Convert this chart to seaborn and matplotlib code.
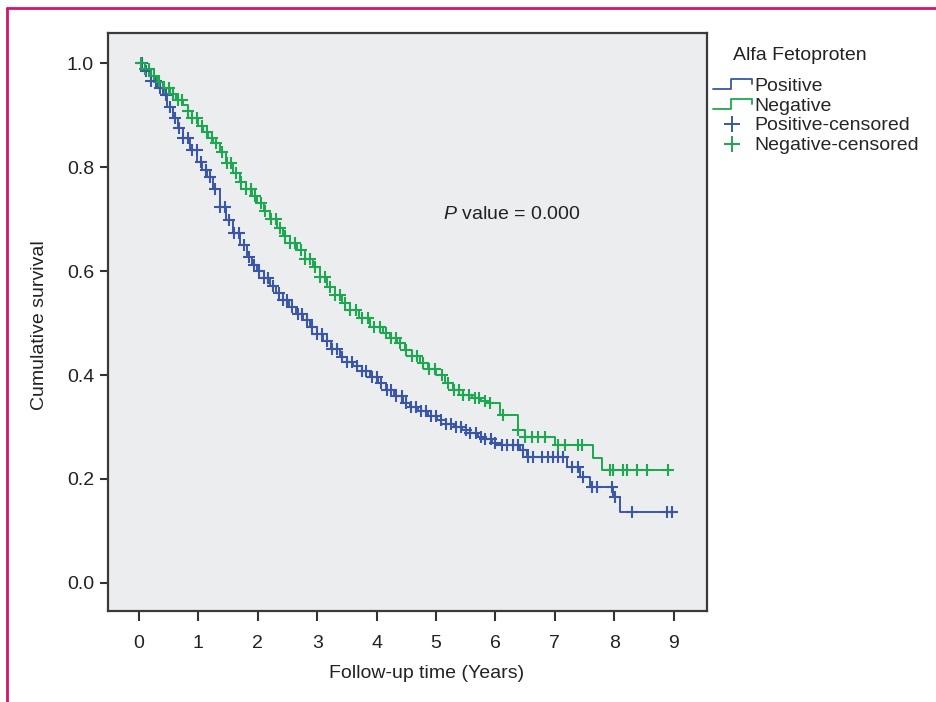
import numpy as np
import pandas as pd
import matplotlib
matplotlib.use("Agg")
import matplotlib.pyplot as plt
import seaborn as sns
from matplotlib.lines import Line2D
from matplotlib.legend_handler import HandlerBase

# Kaplan-Meier step values (time in years, survival after step)
pos_times = [0, 0.1, 0.2, 0.3, 0.4, 0.48, 0.57, 0.65, 0.74, 0.86, 0.98, 1.06, 1.14, 1.25,
             1.36, 1.47, 1.58, 1.7, 1.82, 1.9, 1.99, 2.1, 2.2, 2.3, 2.42, 2.53, 2.65, 2.76,
             2.88, 3.0, 3.1, 3.24, 3.38, 3.5, 3.6, 3.75, 3.89, 4.02, 4.15, 4.3, 4.44, 4.57,
             4.7, 4.86, 5.02, 5.16, 5.3, 5.44, 5.57, 5.7, 5.8, 5.95, 6.08, 6.41, 6.53, 7.2,
             7.42, 7.59, 7.98, 8.1, 8.97]
pos_surv = [1.0, 0.985, 0.965, 0.952, 0.938, 0.915, 0.894, 0.875, 0.856, 0.833, 0.81, 0.795,
            0.781, 0.758, 0.723, 0.698, 0.673, 0.650, 0.627, 0.612, 0.600, 0.586, 0.572, 0.558,
            0.544, 0.531, 0.518, 0.505, 0.492, 0.479, 0.466, 0.450, 0.435, 0.425, 0.418, 0.407,
            0.396, 0.384, 0.372, 0.359, 0.346, 0.338, 0.331, 0.322, 0.313, 0.306, 0.300, 0.294,
            0.288, 0.281, 0.276, 0.270, 0.265, 0.256, 0.242, 0.223, 0.204, 0.185, 0.165, 0.137,
            0.137]

neg_times = [0, 0.1, 0.2, 0.3, 0.4, 0.52, 0.63, 0.74, 0.82, 0.9, 1.0, 1.08, 1.17, 1.25, 1.36,
             1.47, 1.58, 1.7, 1.8, 1.9, 1.99, 2.1, 2.2, 2.32, 2.43, 2.55, 2.66, 2.8, 2.93,
             3.05, 3.16, 3.3, 3.42, 3.55, 3.7, 3.89, 4.1, 4.22, 4.34, 4.47, 4.6, 4.73, 4.86,
             5.0, 5.15, 5.29, 5.45, 5.6, 5.75, 5.86, 6.08, 6.38, 6.5, 7.0, 7.64, 7.8, 8.9]
neg_surv = [1.0, 0.988, 0.975, 0.963, 0.952, 0.940, 0.930, 0.919, 0.907, 0.895, 0.880, 0.867,
            0.856, 0.846, 0.829, 0.808, 0.788, 0.771, 0.757, 0.744, 0.731, 0.716, 0.700, 0.682,
            0.668, 0.654, 0.640, 0.624, 0.608, 0.588, 0.569, 0.553, 0.539, 0.525, 0.510, 0.492,
            0.481, 0.471, 0.462, 0.449, 0.436, 0.423, 0.411, 0.400, 0.385, 0.371, 0.362, 0.355,
            0.350, 0.346, 0.323, 0.294, 0.281, 0.265, 0.240, 0.217, 0.217]

# censored observations
pos_censor = [0.05, 0.12, 0.2, 0.28, 0.36, 0.45, 0.52, 0.6, 0.67, 0.75, 0.83, 0.9, 0.97,
              1.05, 1.13, 1.2, 1.28, 1.37, 1.45, 1.52, 1.6, 1.68, 1.77, 1.85, 1.93, 2.02,
              2.1, 2.18, 2.26, 2.35, 2.43, 2.5, 2.58, 2.67, 2.75, 2.83, 2.92, 3.0, 3.08,
              3.17, 3.25, 3.33, 3.42, 3.5, 3.58, 3.67, 3.75, 3.83, 3.92, 4.0, 4.08, 4.17,
              4.25, 4.33, 4.42, 4.5, 4.58, 4.67, 4.75, 4.83, 4.92, 5.0, 5.08, 5.17, 5.25,
              5.33, 5.42, 5.5, 5.58, 5.67, 5.75, 5.83, 5.92, 6.0, 6.11, 6.19, 6.3, 6.38,
              6.46, 6.55, 6.63, 6.78, 6.89, 6.97, 7.05, 7.14, 7.29, 7.39, 7.48, 7.63,
              7.71, 7.96, 8.01, 8.3, 8.89, 8.97]
neg_censor = [0.04, 0.1, 0.17, 0.25, 0.33, 0.42, 0.5, 0.58, 0.66, 0.73, 0.82, 0.9, 0.98,
              1.06, 1.15, 1.23, 1.3, 1.4, 1.48, 1.55, 1.63, 1.72, 1.8, 1.88, 1.95, 2.05,
              2.13, 2.22, 2.3, 2.38, 2.46, 2.55, 2.63, 2.72, 2.8, 2.88, 2.97, 3.05, 3.13,
              3.22, 3.3, 3.38, 3.47, 3.55, 3.65, 3.75, 3.85, 3.95, 4.05, 4.15, 4.25, 4.32,
              4.4, 4.5, 4.6, 4.68, 4.78, 4.88, 4.98, 5.1, 5.2, 5.3, 5.38, 5.45, 5.55,
              5.65, 5.72, 5.82, 5.9, 6.13, 6.38, 6.5, 6.62, 6.72, 6.84, 7.05, 7.17,
              7.39, 7.46, 7.93, 7.98, 8.15, 8.22, 8.38, 8.55, 8.9]

x_ticks = [0, 1, 2, 3, 4, 5, 6, 7, 8, 9]
y_ticks = [0.0, 0.2, 0.4, 0.6, 0.8, 1.0]

BLUE = "#3A56A7"
GREEN = "#1CA750"


def censor_y(times, surv, cens):
    idx = np.searchsorted(times, cens, side="right") - 1
    return np.asarray(surv)[idx]


class StepHandler(HandlerBase):
    def create_artists(self, legend, orig_handle, xdescent, ydescent, width, height, fontsize, trans):
        xs = np.array([0.0, 0.45, 0.45, 1.0, 1.0]) * width - xdescent
        ys = np.array([0.1, 0.1, 0.85, 0.85, 0.45]) * height - ydescent
        return [Line2D(xs, ys, color=orig_handle.get_color(), lw=1.3, transform=trans)]


sns.set_style("white")
plt.rcParams["font.family"] = ["Liberation Sans", "DejaVu Sans"]
plt.rcParams["mathtext.fontset"] = "custom"
plt.rcParams["mathtext.it"] = "Liberation Sans:italic"
plt.rcParams["mathtext.rm"] = "Liberation Sans"

fig = plt.figure(figsize=(9.36, 7.02), dpi=100)
ax = fig.add_axes([108 / 936, 1 - 611 / 702, (707 - 108) / 936, (611 - 33) / 702])
ax.set_facecolor("#ECEDEE")

pos_df = pd.DataFrame({"time": pos_times, "surv": pos_surv})
neg_df = pd.DataFrame({"time": neg_times, "surv": neg_surv})
sns.lineplot(data=pos_df, x="time", y="surv", drawstyle="steps-post", color=BLUE, lw=1.4, ax=ax)
sns.lineplot(data=neg_df, x="time", y="surv", drawstyle="steps-post", color=GREEN, lw=1.4, ax=ax)

pc = pd.DataFrame({"time": pos_censor, "surv": censor_y(pos_times, pos_surv, pos_censor)})
nc = pd.DataFrame({"time": neg_censor, "surv": censor_y(neg_times, neg_surv, neg_censor)})
sns.scatterplot(data=pc, x="time", y="surv", marker="+", s=75, color=BLUE, linewidth=1.5, ax=ax)
sns.scatterplot(data=nc, x="time", y="surv", marker="+", s=75, color=GREEN, linewidth=1.5, ax=ax)

ax.set_xlim(-0.52, 9.56)
ax.set_ylim(-0.054, 1.058)
ax.set_xticks(x_ticks)
ax.set_xticklabels([str(v) for v in x_ticks])
ax.set_yticks(y_ticks)
ax.set_yticklabels([f"{v:.1f}" for v in y_ticks])
ax.tick_params(axis="x", bottom=True, direction="out", length=7, width=1.5, color="#333333",
               labelsize=14, labelcolor="#222222", pad=10)
ax.tick_params(axis="y", left=True, direction="out", length=6, width=1.5, color="#333333",
               labelsize=14, labelcolor="#222222", pad=4)
for sp in ax.spines.values():
    sp.set_color("#3a3a3a")
    sp.set_linewidth(1.6)
ax.set_xlabel("Follow-up time (Years)", fontsize=14, color="#222222")
ax.set_ylabel("Cumulative survival", fontsize=14, color="#222222")
ax.xaxis.set_label_coords(0.531, -0.093)
ax.yaxis.set_label_coords(-0.1, 0.495)

ax.text(5.12, 0.708, "$P$ value = 0.000", fontsize=14, va="center", ha="left", color="#222222")

# legend
fig.text(733 / 936, 1 - 55 / 702, "Alfa Fetoproten", fontsize=14, va="center", ha="left",
         color="#222222")
handles = [Line2D([], [], color=BLUE), Line2D([], [], color=GREEN),
           Line2D([], [], color=BLUE, marker="+", ls="none", ms=11, mew=1.4),
           Line2D([], [], color=GREEN, marker="+", ls="none", ms=11, mew=1.4)]
labels = ["Positive", "Negative", "Positive-censored", "Negative-censored"]
fig.legend(handles, labels, loc="upper left", bbox_to_anchor=(713 / 936, 1 - 77 / 702),
           frameon=False, fontsize=14, labelspacing=0.12, handlelength=2.0,
           handletextpad=0.15, borderpad=0, borderaxespad=0,
           handler_map={handles[0]: StepHandler(), handles[1]: StepHandler()})

# magenta page frame
fig.add_artist(Line2D([7 / 936, 7 / 936], [0, 1 - 8 / 702], color="#D4146E", lw=2,
                      transform=fig.transFigure))
fig.add_artist(Line2D([7 / 936, 1], [1 - 8 / 702, 1 - 8 / 702], color="#D4146E", lw=2,
                      transform=fig.transFigure))

fig.savefig("out.png", dpi=100)
